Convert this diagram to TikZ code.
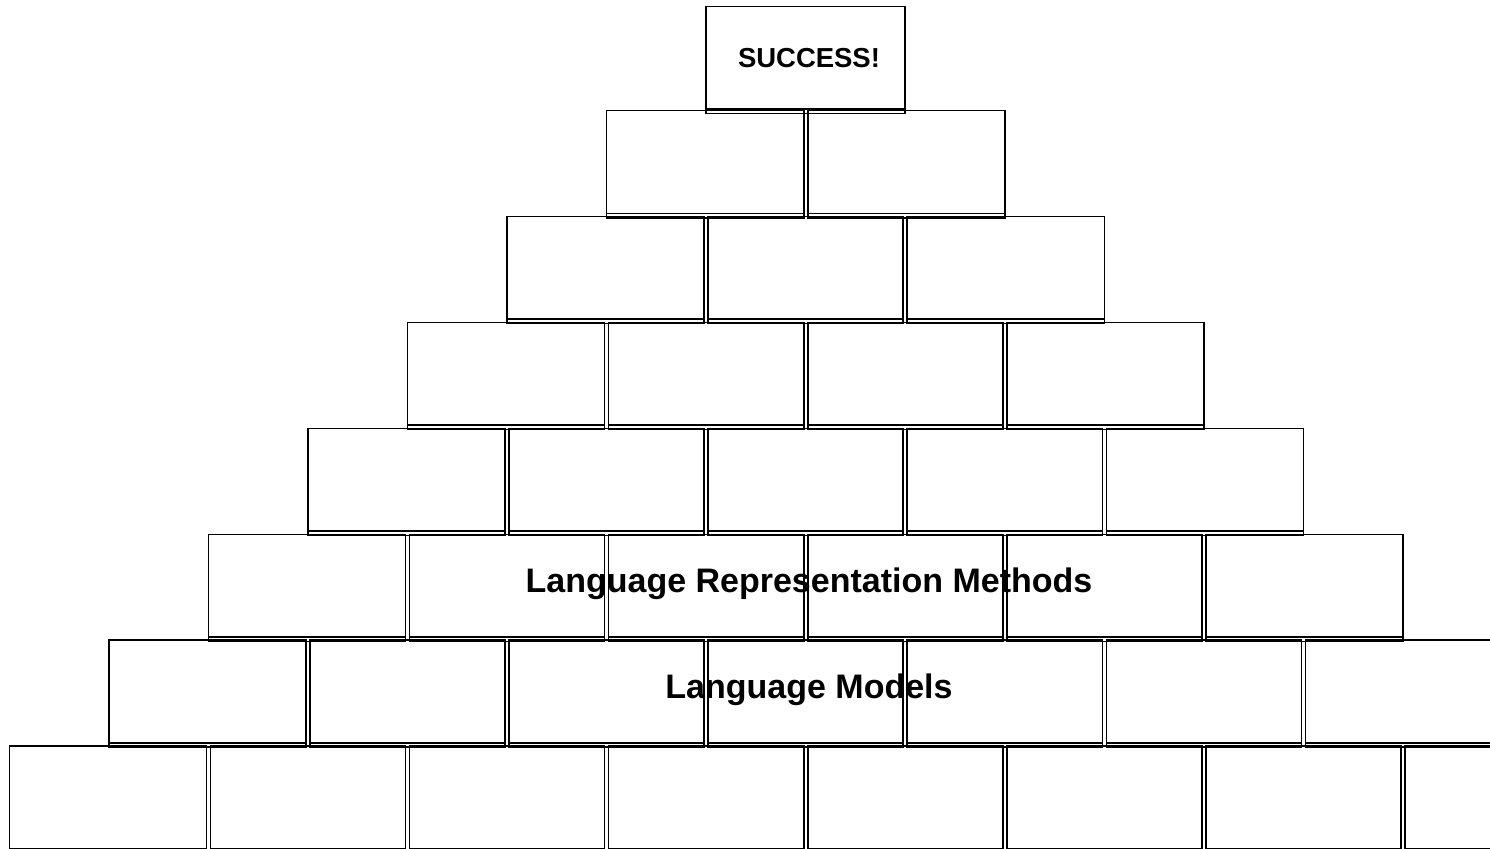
\documentclass[tikz,border=0pt]{standalone}
\usepackage{fontspec}
\setmainfont{Liberation Sans}
\tikzset{
  brickline/.style={draw=black, line width=1.2pt},
  pics/brick/.style={code={
    \draw[brickline] (0,0) rectangle (#1,-107);
    \draw[brickline] (0,-102.6) -- (#1,-102.6);
  }},
  bigtext/.style={inner sep=0.75pt, align=center, font=\fontsize{25.5}{30}\selectfont\bfseries},
  toptext/.style={inner sep=0.75pt, align=center, font=\fontsize{20.6}{25}\selectfont\bfseries}
}

\begin{document}
\begin{tikzpicture}[x=0.75pt,y=0.75pt,yscale=-1,xscale=1]
%set diagram to 1490 x 849 and cut what runs over the right and bottom
\clip (0,0) rectangle (1490,849);
\fill[white] (0,0) rectangle (1490,849);

% Text Node
\node (success) [toptext] at (809,58) {SUCCESS!};
% Text Node
\node (reprmethods) [bigtext] at (809,584) {Language Representation Methods};
% Text Node
\node (langmodels) [bigtext] at (809,690) {Language Models};

%Row 8 (bottom)
\pic at (9.3,746.1) {brick=197.1};
\pic at (210.4,746.1) {brick=195.1};
\pic at (409.5,746.1) {brick=195.1};
\pic at (608.6,746.1) {brick=195.1};
\pic at (807.7,746.1) {brick=195.1};
\pic at (1006.8,746.1) {brick=195.1};
\pic at (1205.9,746.1) {brick=195.1};
\pic at (1405.0,746.1) {brick=197.1};
%Row 7
\pic at (108.85,640.2) {brick=197.1};
\pic at (309.95,640.2) {brick=195.1};
\pic at (509.05,640.2) {brick=195.1};
\pic at (708.15,640.2) {brick=195.1};
\pic at (907.25,640.2) {brick=195.1};
\pic at (1106.35,640.2) {brick=195.1};
\pic at (1305.45,640.2) {brick=197.1};
%Row 6
\pic at (208.4,534.3) {brick=197.1};
\pic at (409.5,534.3) {brick=195.1};
\pic at (608.6,534.3) {brick=195.1};
\pic at (807.7,534.3) {brick=195.1};
\pic at (1006.8,534.3) {brick=195.1};
\pic at (1205.9,534.3) {brick=197.1};
%Row 5
\pic at (307.95,428.4) {brick=197.1};
\pic at (509.05,428.4) {brick=195.1};
\pic at (708.15,428.4) {brick=195.1};
\pic at (907.25,428.4) {brick=195.1};
\pic at (1106.35,428.4) {brick=197.1};
%Row 4
\pic at (407.5,322.5) {brick=197.1};
\pic at (608.6,322.5) {brick=195.1};
\pic at (807.7,322.5) {brick=195.1};
\pic at (1006.8,322.5) {brick=197.1};
%Row 3
\pic at (507.05,216.6) {brick=197.1};
\pic at (708.15,216.6) {brick=195.1};
\pic at (907.25,216.6) {brick=197.1};
%Row 2
\pic at (606.6,110.7) {brick=197.1};
\pic at (807.7,110.7) {brick=197.1};
%Row 1 (top)
\pic at (706.15,6.5) {brick=199.1};

\end{tikzpicture}
\end{document}
